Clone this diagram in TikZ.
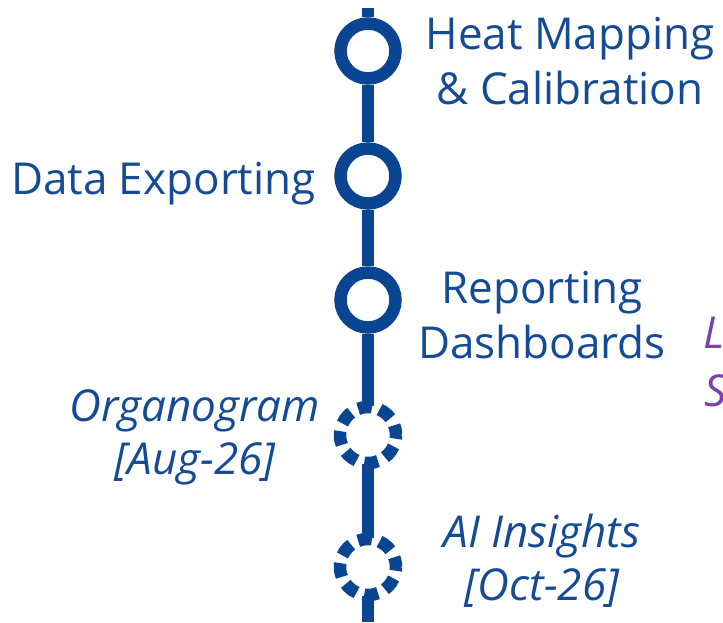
\documentclass[tikz,border=0pt]{standalone}
\usepackage{fontspec}
\setmainfont{Open Sans}
\definecolor{roadblue}{HTML}{0A4591}
\definecolor{textblue}{HTML}{154B94}
\definecolor{plum}{HTML}{7A3FB0}
\begin{document}
\begin{tikzpicture}[x=1pt,y=-1pt,
  track/.style={draw=roadblue,line width=11.5pt},
  done/.style={circle,draw=roadblue,fill=white,line width=12.5pt,minimum size=55pt,inner sep=0pt},
  planned/.style={done,minimum size=56pt,dash pattern=on 14pt off 8pt,dash phase=4pt},
  lbl/.style={text=textblue,inner sep=0pt,align=center,font=\fontsize{44}{55}\selectfont},
  ilbl/.style={lbl,font=\fontsize{44}{53}\selectfont\itshape},
  pl/.style={text=plum,inner sep=0pt,font=\fontsize{44}{53}\selectfont\itshape}]
\useasboundingbox (0,0) rectangle (723,622);
\clip (0,0) rectangle (723,622);

% milestones along the track
\coordinate (top) at (368,8);
\coordinate (bottom) at (368,622);
\node[done] (m1) at (368,51) {};
\node[done] (m2) at (368,176) {};
\node[done] (m3) at (368,300) {};
\node[planned] (m4) at (368,435) {};
\node[planned] (m5) at (368,567) {};

% track segments between the milestones
\draw[track] (top) -- (m1);
\draw[track] (m1) -- (m2);
\draw[track] (m2) -- (m3);
\draw[track,shorten >=-5pt] (m3) -- (m4);
\draw[track,shorten <=-5pt,shorten >=-5pt] (m4) -- (m5);
\draw[track,shorten <=-5pt] (m5) -- (bottom);

% labels
\node[lbl,anchor=north] (t1) at (570,17) {Heat Mapping\\\& Calibration};
\node[lbl,anchor=north east] (t2) at (316,162) {Data Exporting};
\node[lbl,anchor=north] (t3) at (542,271) {Reporting\\Dashboards};
\node[ilbl,anchor=north] (t4) at (195,389) {Organogram\\{[}Aug-26]};
\node[ilbl,anchor=north] (t5) at (542,514) {AI Insights\\{[}Oct-26]};

% side note running off the right edge
\node[pl,anchor=north west] (n1) at (703,317) {L};
\node[pl,anchor=north west] (n2) at (704,374) {S};
\end{tikzpicture}
\end{document}
